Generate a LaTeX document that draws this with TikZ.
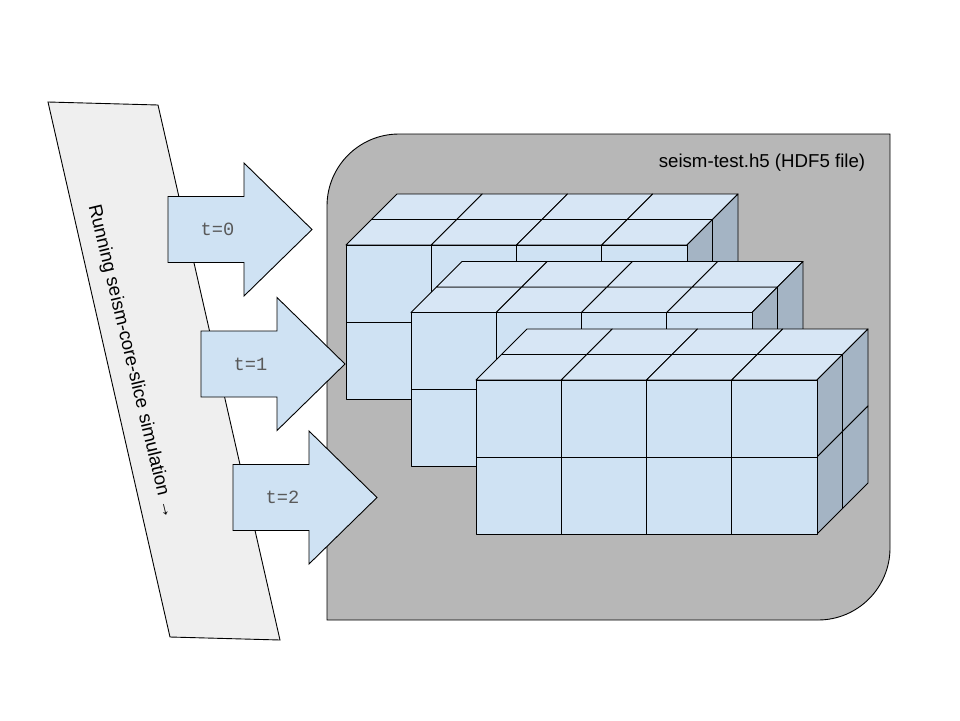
\documentclass[tikz,border=0pt]{standalone}
\usepackage{fontspec}
\setmainfont{Liberation Sans}
\newfontfamily\codefont{Liberation Mono}
\usetikzlibrary{positioning}
\definecolor{cellfront}{HTML}{CFE2F3}
\definecolor{celltop}{HTML}{D7E6F5}
\definecolor{cellside}{HTML}{A4B4C4}
\definecolor{filegray}{HTML}{B7B7B7}
\definecolor{simgray}{HTML}{EFEFEF}
\definecolor{labelgray}{HTML}{595959}
\tikzset{
    cell/.style={draw=black, line width=0.9pt, line join=round},
    front cell/.style={cell, fill=cellfront},
    top cell/.style={cell, fill=celltop},
    side cell/.style={cell, fill=cellside},
    time arrow/.style={draw=black, line width=0.9pt, fill=cellfront},
    time label/.style={font=\codefont\fontsize{18.67}{20}\selectfont, text=labelgray}
}
% one block of 4 x 2 x 2 cells, front top-left corner at (#1,#2)
\newcommand{\cubeblock}[2]{%
    \begin{scope}[shift={(#1,#2)}]
    \foreach \j in {0,1}
        \foreach \i in {0,...,3}
            \draw[top cell] ({\i*85.25+\j*25.5},{-\j*25.5}) -- ++(85.25,0) -- ++(25.5,-25.5) -- ++(-85.25,0) -- cycle;
    \foreach \j in {0,1}
        \foreach \r in {0,1}
            \draw[side cell] ({341+\j*25.5},{\r*77-\j*25.5}) -- ++(25.5,-25.5) -- ++(0,77) -- ++(-25.5,25.5) -- cycle;
    \foreach \i in {0,...,3}
        \foreach \r in {0,1}
            \draw[front cell] ({\i*85.25},{\r*77}) rectangle ++(85.25,77);
    \end{scope}}
% block arrow with its label, tail at x=#2, middle at y=#3
\newcommand{\timearrow}[4]{%
    \draw[time arrow] (#2,#3-33) -- ++(76,0) -- ++(0,-33.5) -- ++(68,66.5)
        -- ++(-68,66.5) -- ++(0,-33.5) -- ++(-76,0) -- cycle;
    \node[time label] (#1) at (#2+49.5,#3) {#4};}

\begin{document}
\begin{tikzpicture}[x=1pt, y=-1pt]
\tikzstyle{file box}=[draw=black, line width=0.9pt, fill=filegray]
\tikzstyle{sim band}=[draw=black, line width=0.9pt, fill=simgray]
\useasboundingbox (0,0) rectangle (960,720);

% simulation band
\draw[sim band] (48,102) -- (158,105) -- (280,640) -- (170,637) -- cycle;
\node[rotate=-76.5, font=\fontsize{18.67}{22}\selectfont] (sim) at (131,362)
    {Running seism-core-slice simulation →};

% HDF5 file
\draw[file box] (327,620) -- (327,206) arc[start angle=180, end angle=270, radius=72]
    -- (890,134) -- (890,548) arc[start angle=0, end angle=90, radius=72] -- cycle;
\node[font=\fontsize{18.67}{22}\selectfont] (file) at (762,163) {seism-test.h5 (HDF5 file)};

% time steps
\timearrow{t0}{168}{229.5}{t=0}
\timearrow{t1}{201}{364}{t=1}
\timearrow{t2}{233}{497.5}{t=2}

% datasets
\cubeblock{346}{245}
\cubeblock{411}{312.5}
\cubeblock{476}{380}
\end{tikzpicture}
\end{document}
